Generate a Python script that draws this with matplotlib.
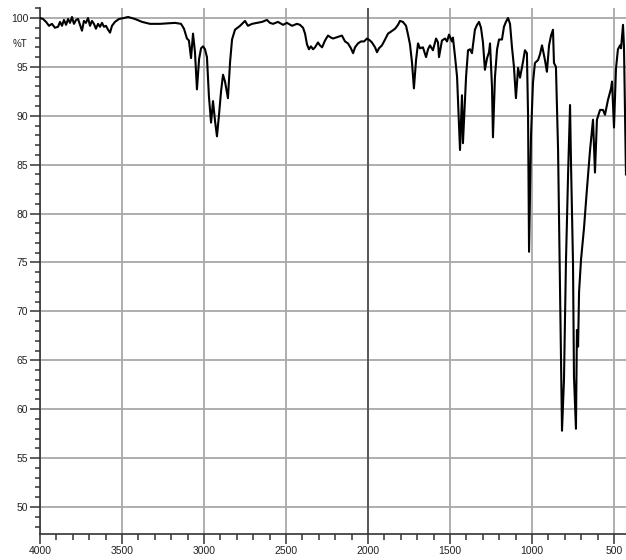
import numpy as np
import matplotlib
matplotlib.use("Agg")
import matplotlib.pyplot as plt
from matplotlib.ticker import MultipleLocator

# IR spectrum, wavenumber (cm-1) vs transmittance (%T)
wavenumber = [
    4000, 3982, 3963, 3945, 3927, 3909, 3890, 3878, 3866, 3854, 3841, 3829,
    3817, 3805, 3793, 3780, 3768, 3756, 3744, 3732, 3720, 3707, 3695, 3683,
    3671, 3659, 3646, 3634, 3622, 3610, 3598, 3585, 3573, 3561, 3543, 3518,
    3488, 3463, 3421, 3378, 3329, 3268, 3177, 3140, 3122, 3104, 3092, 3079,
    3067, 3055, 3043, 3030, 3018, 3006, 2994, 2982, 2970, 2957, 2945, 2933,
    2921, 2909, 2896, 2884, 2872, 2854, 2841, 2829, 2811, 2780, 2750, 2732,
    2707, 2677, 2646, 2616, 2598, 2579, 2549, 2518, 2494, 2463, 2433, 2415,
    2396, 2384, 2372, 2360, 2348, 2335, 2323, 2305, 2293, 2280, 2262, 2244,
    2226, 2213, 2195, 2177, 2159, 2140, 2122, 2104, 2091, 2079, 2061, 2043,
    2024, 2006, 1988, 1976, 1957, 1945, 1933, 1915, 1896, 1878, 1860, 1835,
    1817, 1805, 1787, 1768, 1756, 1744, 1732, 1720, 1707, 1695, 1683, 1665,
    1646, 1634, 1622, 1604, 1585, 1573, 1567, 1549, 1530, 1518, 1506, 1488,
    1482, 1469, 1457, 1439, 1427, 1421, 1402, 1390, 1378, 1366, 1348, 1335,
    1323, 1311, 1299, 1287, 1274, 1262, 1256, 1244, 1238, 1226, 1213, 1201,
    1183, 1171, 1159, 1146, 1134, 1122, 1110, 1098, 1085, 1073, 1055, 1043,
    1031, 1024, 1018, 1006, 994, 982, 963, 951, 939, 921, 909, 896,
    884, 872, 866, 854, 841, 829, 817, 805, 793, 780, 768, 762,
    750, 744, 732, 726, 719, 713, 701, 683, 665, 646, 628, 616,
    604, 585, 567, 555, 537, 518, 512, 500, 488, 476, 463, 457,
    445, 439, 427,
]
transmittance = [
    100.0, 99.9, 99.6, 99.2, 99.4, 99.0, 99.1, 99.6, 99.2, 99.8, 99.3, 99.9,
    99.5, 100.1, 99.4, 99.8, 99.9, 99.3, 98.7, 99.7, 99.5, 100.0, 99.2, 99.7,
    99.4, 98.9, 99.4, 99.1, 99.5, 99.1, 99.2, 98.8, 98.5, 99.2, 99.6, 99.9,
    100.0, 100.1, 99.9, 99.6, 99.4, 99.4, 99.5, 99.4, 98.9, 97.9, 97.7, 95.9,
    98.4, 96.5, 92.7, 95.8, 96.9, 97.1, 96.8, 96.0, 92.0, 89.3, 91.5, 89.5,
    87.9, 90.0, 92.5, 94.2, 93.5, 91.8, 95.5, 97.8, 98.8, 99.2, 99.7, 99.2,
    99.4, 99.5, 99.6, 99.8, 99.5, 99.4, 99.6, 99.3, 99.5, 99.2, 99.4, 99.3,
    99.0, 98.4, 97.3, 96.8, 97.1, 96.8, 97.0, 97.5, 97.2, 97.0, 97.7, 98.2,
    98.0, 97.9, 98.0, 98.1, 98.2, 97.6, 97.4, 96.9, 96.4, 97.0, 97.4, 97.6,
    97.6, 97.9, 97.7, 97.5, 97.0, 96.5, 96.9, 97.2, 97.8, 98.4, 98.6, 98.9,
    99.3, 99.7, 99.6, 99.2, 98.3, 97.3, 95.5, 92.8, 95.7, 97.4, 96.9, 97.0,
    96.0, 96.8, 97.2, 96.7, 97.9, 97.5, 96.0, 97.7, 97.9, 97.6, 98.3, 97.6,
    98.0, 96.0, 94.0, 86.5, 92.1, 87.2, 94.0, 96.7, 96.8, 96.4, 98.8, 99.3,
    99.6, 99.0, 97.5, 94.7, 95.9, 96.5, 97.4, 93.0, 87.8, 93.9, 96.8, 97.8,
    97.8, 99.1, 99.6, 100.0, 99.4, 97.0, 95.0, 91.8, 94.9, 93.9, 95.5, 96.7,
    96.4, 90.0, 76.1, 88.0, 93.4, 95.4, 95.7, 96.3, 97.2, 95.7, 94.5, 97.2,
    98.2, 98.8, 95.4, 95.0, 86.5, 72.0, 57.8, 63.0, 75.0, 84.0, 91.1, 85.0,
    75.0, 63.3, 58.0, 68.1, 66.4, 72.0, 75.3, 78.5, 82.5, 86.5, 89.6, 84.2,
    89.6, 90.6, 90.6, 90.1, 91.6, 92.8, 93.5, 88.8, 94.8, 96.8, 97.2, 96.9,
    99.3, 97.0, 84.0,
]

plt.rcParams['font.family'] = ['Liberation Sans', 'DejaVu Sans']

fig = plt.figure(figsize=(6.26, 5.6), dpi=100)
ax = fig.add_axes([40 / 626, 26 / 560, 586 / 626, 526 / 560])

ax.plot(wavenumber, transmittance, color='black', lw=1.5, zorder=3)

ax.set_xlim(4000, 426.8)
ax.set_ylim(47.24, 101.02)

ax.xaxis.set_major_locator(MultipleLocator(500))
ax.xaxis.set_minor_locator(MultipleLocator(100))
ax.yaxis.set_major_locator(MultipleLocator(5))
ax.yaxis.set_minor_locator(MultipleLocator(1))

ax.grid(True, which='major', color='#a8a8a8', lw=1.3, zorder=1)
ax.axvline(2000, color='#505050', lw=1.3, zorder=2)

for side in ['top', 'right']:
    ax.spines[side].set_visible(False)
for side in ['left', 'bottom']:
    ax.spines[side].set_color('#333333')
    ax.spines[side].set_linewidth(1.2)

ax.tick_params(axis='both', which='major', direction='out', length=7,
               width=1.1, color='#333333', labelsize=7.5, labelcolor='#222222',
               pad=1.5)
ax.tick_params(axis='y', which='minor', direction='out', length=3.6,
               width=1.1, color='#333333')
ax.tick_params(axis='x', which='minor', direction='out', length=4.5,
               width=1.1, color='#333333')

ax.text(-0.035, 0.932, '%T', transform=ax.transAxes, fontsize=7,
        ha='center', va='center', color='#222222')

fig.savefig('out.png', dpi=100)
